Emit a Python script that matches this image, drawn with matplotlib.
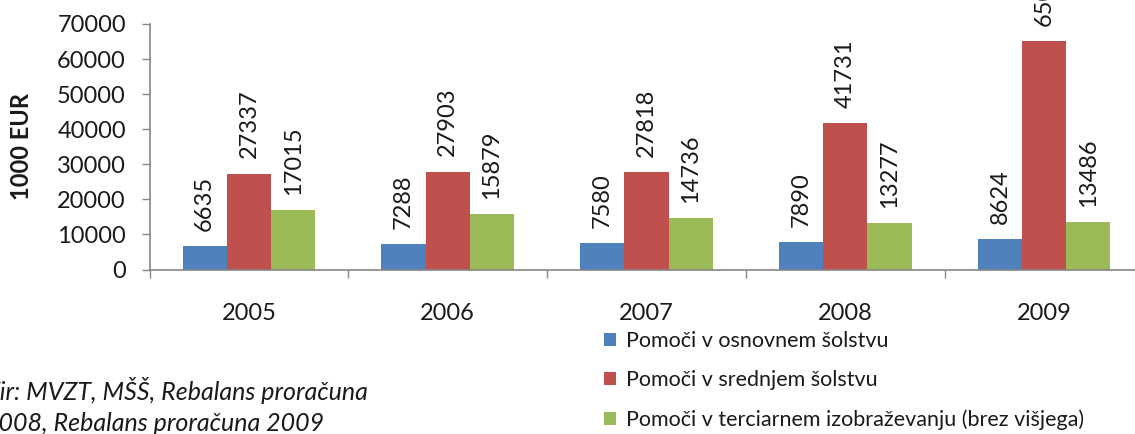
import matplotlib
matplotlib.use("Agg")
import matplotlib.pyplot as plt
from matplotlib.patches import Patch
import numpy as np

years = ["2005", "2006", "2007", "2008", "2009"]
osnovno = [6635, 7288, 7580, 7890, 8624]
srednje = [27337, 27903, 27818, 41731, 65050]
terciarno = [17015, 15879, 14736, 13277, 13486]

series_names = [
    "Pomoči v osnovnem šolstvu",
    "Pomoči v srednjem šolstvu",
    "Pomoči v terciarnem izobraževanju (brez višjega)",
]
colors = ["#4F81BD", "#C0504D", "#9BBB59"]
y_ticks = [0, 10000, 20000, 30000, 40000, 50000, 60000, 70000]

plt.rcParams["font.family"] = ["Lato", "DejaVu Sans"]

W, H = 1135, 434
fig = plt.figure(figsize=(W / 100, H / 100), dpi=100)
# plot area: x 149.5 -> 1143.5 px, y 24 -> 269.5 px (from top)
ax = fig.add_axes([149.5 / W, 1 - 269.5 / H, (1143.5 - 149.5) / W, (269.5 - 24) / H])

x = np.arange(len(years))
bw = 1 / 4.5
text_col = "#1a1a1a"
for i, (vals, col) in enumerate(zip([osnovno, srednje, terciarno], colors)):
    pos = x + (i - 1) * bw
    bars = ax.bar(pos, vals, width=bw, color=col, edgecolor="none", zorder=2)
    for b, v in zip(bars, vals):
        ax.annotate(str(v), (b.get_x() + b.get_width() / 2, v),
                    xytext=(0, 11), textcoords="offset points",
                    rotation=90, ha="center", va="bottom",
                    fontsize=17, color=text_col, annotation_clip=False)

ax.set_xlim(-0.5, len(years) - 0.5)
ax.set_ylim(0, 70000)
ax.set_yticks(y_ticks)
ax.set_yticklabels([str(t) for t in y_ticks], fontsize=17, color=text_col)
ax.set_xticks(x)
ax.set_xticklabels(years, fontsize=17, color=text_col)
ax.tick_params(axis="x", length=0, pad=24)
ax.set_xticks(np.arange(-0.5, len(years)), minor=True)
ax.tick_params(axis="x", which="minor", length=6, color="#868686", width=1)
ax.tick_params(axis="y", length=6, color="#868686", width=1, pad=11)

for s in ["top", "right"]:
    ax.spines[s].set_visible(False)
for s in ["left", "bottom"]:
    ax.spines[s].set_color("#868686")
    ax.spines[s].set_linewidth(1.2)

fig.text(22 / W, 1 - 147 / H, "1000 EUR", rotation=90, ha="center", va="center",
         fontsize=17, fontweight="bold", color=text_col)

handles = [Patch(facecolor=c, edgecolor="none") for c in colors]
fig.legend(handles, series_names, loc="upper left",
           bbox_to_anchor=(604 / W, 1 - 331 / H), frameon=False,
           fontsize=15.5, labelspacing=0.9, handlelength=0.55, handleheight=0.55,
           handletextpad=0.45, borderaxespad=0, borderpad=0, labelcolor=text_col)

fig.text(-16 / W, 1 - 406 / H, "Vir: MVZT, MŠŠ, Rebalans proračuna\n2008, Rebalans proračuna 2009",
         ha="left", va="center", fontsize=18, style="italic", color=text_col,
         linespacing=1.45)

fig.savefig("out.png", dpi=100)
